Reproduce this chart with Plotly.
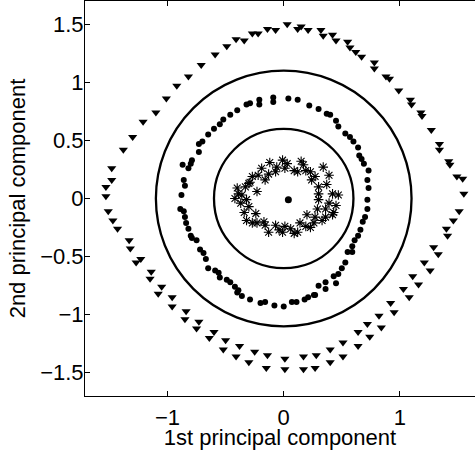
import plotly.graph_objects as go

# ---- data ----
tri_x = [-0.41, -0.49, -0.59, -0.71, -0.82, -0.92, -1.01, -1.10, -1.21, -1.30, -1.38, -1.48, -1.48, -1.53, -1.53, -1.51,
         -0.34, -0.27, -0.22, -0.14, -0.07, 0.03, 0.12, 0.15, 0.21, 0.32, 0.34, 0.42, 0.45, 0.55, 0.57, 0.62, 0.67,
         0.78, 0.78, 0.88, 0.91, 0.99, 1.09, 1.10, 1.18, 1.19, 1.27, 1.34, 1.34, 1.42, 1.43, 1.49, 1.54, 1.55, 1.51,
         -1.43, -1.33, -1.32, -1.27, -1.23, -1.14, -1.15, -1.05, -1.08, -0.96, -0.96, -0.84, -0.85, -0.73, -0.75,
         -0.60, -0.64, -0.50, -0.52, -0.41, -0.38,
         -0.30, -0.25, -0.15, -0.14, 0.01, 0.01, 0.17, 0.17, 0.27, 0.28, 0.40, 0.40, 0.51, 0.51, 0.64, 0.64,
         0.74, 0.72, 0.84, 0.82, 0.95, 0.92, 1.08, 1.03, 1.16, 1.11, 1.26, 1.21, 1.33, 1.29, 1.41, 1.40,
         -1.47, 1.46]
tri_y = [1.37, 1.31, 1.24, 1.15, 1.05, 0.97, 0.86, 0.74, 0.66, 0.53, 0.42, 0.26, 0.16, 0.10, 0.02, -0.11,
         1.36, 1.42, 1.42, 1.46, 1.45, 1.50, 1.46, 1.48, 1.45, 1.45, 1.40, 1.41, 1.36, 1.35, 1.30, 1.26, 1.22,
         1.17, 1.12, 1.05, 1.03, 0.93, 0.85, 0.81, 0.74, 0.71, 0.59, 0.47, 0.42, 0.32, 0.29, 0.19, 0.17, 0.04, -0.11,
         -0.26, -0.36, -0.43, -0.55, -0.52, -0.63, -0.69, -0.76, -0.82, -0.85, -0.93, -0.97, -1.04, -1.06, -1.12,
         -1.15, -1.20, -1.22, -1.30, -1.36, -1.27,
         -1.41, -1.32, -1.46, -1.35, -1.47, -1.38, -1.47, -1.36, -1.46, -1.35, -1.41, -1.30, -1.36, -1.24, -1.27, -1.15,
         -1.19, -1.08, -1.11, -1.01, -0.98, -0.90, -0.85, -0.78, -0.74, -0.67, -0.62, -0.55, -0.48, -0.42, -0.32, -0.26,
         -0.19, -0.19]

dot_x = [-0.40, -0.46, -0.52, -0.55, -0.60, -0.65, -0.70, -0.73, -0.73, -0.79, -0.80, -0.87, -0.82, -0.86, -0.85,
         -0.88, -0.89, -0.86, -0.85, -0.84,
         -0.32, -0.29, -0.21, -0.21, -0.09, -0.09, 0.04, 0.12, 0.22, 0.30, 0.37, 0.40, 0.45, 0.47, 0.53, 0.57,
         0.60, 0.64, 0.65, 0.67, 0.69, 0.73, 0.72, 0.73, 0.72, 0.72, 0.70, 0.68,
         -0.82, -0.80, -0.79, -0.75, -0.72, -0.69, -0.67, -0.65, -0.59, -0.56, -0.55, -0.49, -0.46, -0.42, -0.39,
         0.66, 0.64, 0.61, 0.59, 0.59, 0.55, 0.53, 0.50, 0.47, 0.43, 0.45, 0.36, 0.36, 0.30, 0.27, 0.26, 0.21,
         0.18, 0.11, 0.07, 0.00, -0.08, -0.16, -0.20, -0.29, -0.36, -0.40]
dot_y = [0.76, 0.72, 0.68, 0.64, 0.60, 0.55, 0.49, 0.47, 0.40, 0.33, 0.30, 0.29, 0.26, 0.16, 0.11,
         0.03, -0.09, -0.11, -0.16, -0.21,
         0.81, 0.82, 0.85, 0.81, 0.87, 0.83, 0.86, 0.85, 0.80, 0.77, 0.73, 0.72, 0.67, 0.62, 0.56, 0.53,
         0.49, 0.44, 0.37, 0.34, 0.30, 0.24, 0.16, 0.09, -0.01, -0.09, -0.16, -0.20,
         -0.26, -0.32, -0.34, -0.36, -0.44, -0.47, -0.52, -0.60, -0.62, -0.64, -0.68, -0.70, -0.72, -0.76, -0.79,
         -0.27, -0.32, -0.36, -0.41, -0.46, -0.46, -0.55, -0.60, -0.65, -0.67, -0.73, -0.72, -0.78, -0.75, -0.83, -0.83, -0.85,
         -0.87, -0.89, -0.89, -0.93, -0.92, -0.89, -0.90, -0.87, -0.84, -0.81]

star_x = [-0.12, -0.01, 0.03, 0.15, 0.09, 0.01, -0.06, -0.07, -0.19, -0.22, -0.16, -0.27, -0.30, -0.33, -0.23,
          -0.40, -0.36, -0.42, -0.37, -0.32, -0.30, -0.34, -0.24, -0.32, -0.23, -0.17, -0.13, -0.07, -0.04, 0.01,
          0.06, 0.12, 0.14, 0.19, 0.23, 0.20, 0.27, 0.33, 0.36, 0.29, 0.36, 0.43, 0.39, 0.45, 0.30, 0.30, 0.42,
          0.47, 0.37, 0.30, 0.24, 0.27, 0.39, 0.34, 0.23, 0.19, 0.17, 0.12, -0.13, -0.29, -0.39, -0.16, -0.01,
          0.09, -0.27, 0.26, 0.42]
star_y = [0.31, 0.33, 0.30, 0.32, 0.24, 0.26, 0.27, 0.23, 0.26, 0.20, 0.16, 0.19, 0.13, 0.10, 0.06,
          0.09, 0.03, 0.00, -0.04, -0.01, -0.07, -0.12, -0.13, -0.19, -0.21, -0.20, -0.29, -0.23, -0.27, -0.24,
          -0.26, -0.29, -0.21, -0.24, -0.25, -0.14, -0.16, -0.19, -0.16, -0.09, -0.09, -0.12, -0.04, -0.06, -0.01, 0.04, 0.04,
          0.03, 0.12, 0.10, 0.16, 0.19, 0.20, 0.27, 0.23, 0.24, 0.29, 0.23, 0.21, 0.14, 0.04, -0.23, -0.29,
          -0.30, -0.21, -0.21, -0.14]

center_x = [0.04]
center_y = [-0.01]

circle_radii = [0.6, 1.1]

x_ticks = [-1, 0, 1]
x_tick_labels = ["\u22121", "0", "1"]
y_ticks = [-1.5, -1, -0.5, 0, 0.5, 1, 1.5]
y_tick_labels = ["\u22121.5", "\u22121", "\u22120.5", "0", "0.5", "1", "1.5"]

x_title = "1st principal component"
y_title = "2nd principal component"

# ---- figure ----
FONT = "Liberation Sans"
fig = go.Figure()

fig.add_trace(go.Scatter(x=tri_x, y=tri_y, mode="markers",
                         marker=dict(symbol="triangle-down", size=8, color="black",
                                     line=dict(width=0)), hoverinfo="skip"))
fig.add_trace(go.Scatter(x=dot_x, y=dot_y, mode="markers",
                         marker=dict(symbol="circle", size=6, color="black",
                                     line=dict(width=0)), hoverinfo="skip"))
fig.add_trace(go.Scatter(x=star_x, y=star_y, mode="markers",
                         marker=dict(symbol="asterisk-open", size=8, color="black",
                                     line=dict(width=1.1, color="black")), hoverinfo="skip"))
fig.add_trace(go.Scatter(x=center_x, y=center_y, mode="markers",
                         marker=dict(symbol="circle", size=7, color="black",
                                     line=dict(width=0)), hoverinfo="skip"))

for r in circle_radii:
    fig.add_shape(type="circle", xref="x", yref="y", x0=-r, y0=-r, x1=r, y1=r,
                  line=dict(color="black", width=2.3), layer="below")

fig.update_layout(
    width=475, height=450,
    margin=dict(l=85, r=0, t=1, b=54, autoexpand=False),
    paper_bgcolor="white", plot_bgcolor="white",
    showlegend=False,
    font=dict(family=FONT, size=22, color="black"),
)
fig.update_xaxes(range=[-1.71, 1.646], tickvals=x_ticks, ticktext=x_tick_labels,
                 ticks="inside", ticklen=5, tickwidth=1, tickcolor="black",
                 showline=True, linecolor="black", linewidth=1, mirror="ticks",
                 showgrid=False, zeroline=False, automargin=False,
                 ticklabelstandoff=2,
                 title=dict(text=x_title, standoff=0, font=dict(family=FONT, size=22)),
                 tickfont=dict(family=FONT, size=22))
fig.update_yaxes(range=[-1.70, 1.70], tickvals=y_ticks, ticktext=y_tick_labels,
                 ticks="inside", ticklen=5, tickwidth=1, tickcolor="black",
                 showline=True, linecolor="black", linewidth=1,
                 showgrid=False, zeroline=False, automargin=False,
                 ticklabelstandoff=-4,
                 title=dict(text=y_title, standoff=8, font=dict(family=FONT, size=22)),
                 tickfont=dict(family=FONT, size=22))

fig.write_html("out.html", config={"displayModeBar": False},
               post_script="document.body.style.margin='0';document.body.style.overflow='hidden';")
